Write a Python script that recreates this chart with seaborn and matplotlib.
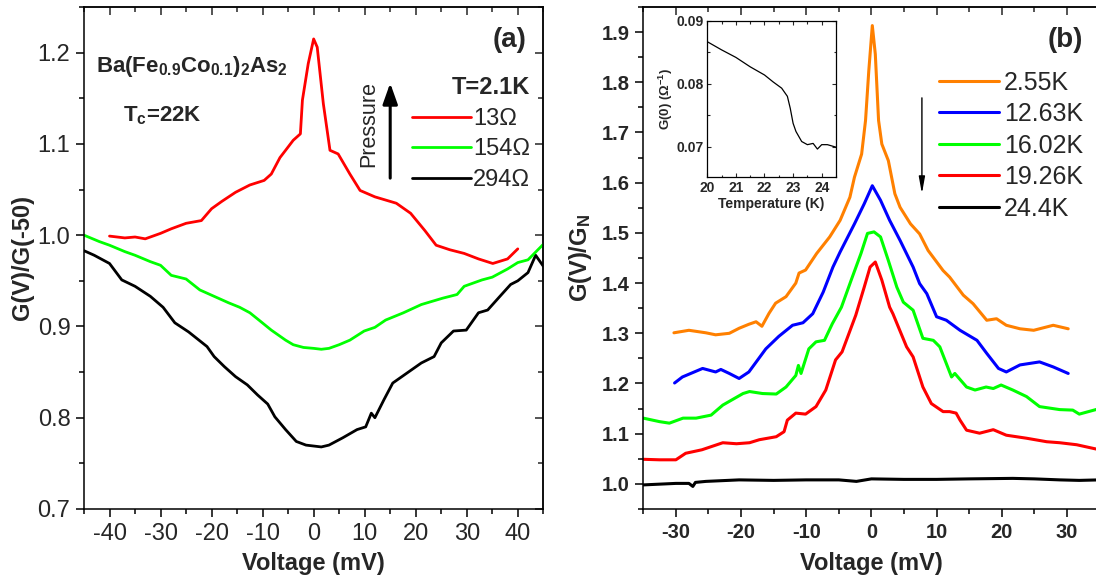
import numpy as np
import pandas as pd
import matplotlib
matplotlib.use("Agg")
import matplotlib.pyplot as plt
import seaborn as sns
from matplotlib.ticker import MultipleLocator, FormatStrFormatter

# ---------------- Panel (a) data : G(V)/G(-50) vs V at T=2.1K ----------------
a_red_v = [-40, -37, -35, -33, -30, -27.9, -25, -22, -20, -18, -15.3, -12.5, -9.7, -8.3,
           -6.6, -5.5, -4.0, -2.6, -2.2, -1.06, 0.0, 0.7, 1.9, 3.2, 4.8, 7.1, 9.1, 12,
           16.2, 19, 21.8, 24, 26.7, 29.5, 32.3, 35.1, 38, 40]
a_red_g = [0.999, 0.997, 0.998, 0.996, 1.002, 1.007, 1.013, 1.016, 1.029, 1.037, 1.047, 1.055,
           1.060, 1.067, 1.085, 1.093, 1.104, 1.111, 1.148, 1.188, 1.215, 1.206, 1.144, 1.093,
           1.089, 1.067, 1.049, 1.042, 1.035, 1.024, 1.005, 0.989, 0.984, 0.980, 0.974, 0.969,
           0.974, 0.985]

a_grn_v = [-45, -42, -40, -37, -35, -32, -30, -27.9, -25, -22.3, -19.5, -16.7, -14.5, -12.5,
           -10.5, -8.3, -5.5, -4, -2, 0, 1.5, 3, 5, 7.1, 9.9, 12, 14.1, 17.6, 21.1, 25.3,
           28.1, 29.5, 33, 35, 38, 40, 42, 45]
a_grn_g = [1.000, 0.993, 0.989, 0.982, 0.978, 0.971, 0.967, 0.956, 0.952, 0.940, 0.933, 0.926,
           0.921, 0.915, 0.906, 0.896, 0.885, 0.880, 0.877, 0.876, 0.875, 0.876, 0.880, 0.885,
           0.895, 0.899, 0.907, 0.915, 0.924, 0.931, 0.935, 0.944, 0.951, 0.954, 0.963, 0.970,
           0.973, 0.990]

a_blk_v = [-45, -43, -40, -37.6, -35, -32, -29.5, -27.2, -24.5, -20.9, -19.5, -17.5, -15.3,
           -13, -11, -9, -7.6, -5.5, -3.4, -1.5, 0, 1.5, 3, 5.7, 8.5, 10.2, 11.3, 12, 13.8,
           15.5, 18.3, 21.1, 23.6, 25, 27.4, 29.9, 32.3, 34.1, 36.5, 38.6, 40, 42, 43.5, 45]
a_blk_g = [0.983, 0.978, 0.969, 0.951, 0.944, 0.933, 0.921, 0.904, 0.894, 0.878, 0.867, 0.856,
           0.845, 0.836, 0.825, 0.815, 0.801, 0.787, 0.774, 0.770, 0.769, 0.768, 0.770, 0.778,
           0.787, 0.790, 0.805, 0.800, 0.820, 0.838, 0.849, 0.860, 0.867, 0.882, 0.895, 0.896,
           0.915, 0.918, 0.933, 0.946, 0.950, 0.959, 0.978, 0.966]

a_labels = ["13\u03a9", "154\u03a9", "294\u03a9"]

# ---------------- Panel (b) data : G(V)/G_N vs V at several T ----------------
b_org_v = [-30.3, -28, -25.4, -23.9, -21.8, -20.3, -18.8, -17.7, -16.8, -15.7, -14.7, -13.1,
           -11.6, -11.1, -10.1, -8.4, -6.4, -4.8, -3.3, -2.6, -1.5, -0.9, -0.4, 0.14, 0.6,
           1.1, 1.6, 2.6, 3.6, 4.4, 6, 7.4, 8.7, 11, 12, 14.1, 15.6, 17.7, 19.2, 20.7, 22.8,
           24.9, 27.9, 30.2]
b_org_g = [1.301, 1.306, 1.301, 1.297, 1.300, 1.310, 1.318, 1.323, 1.314, 1.340, 1.360, 1.373,
           1.400, 1.420, 1.426, 1.459, 1.492, 1.525, 1.571, 1.611, 1.657, 1.724, 1.823, 1.913,
           1.856, 1.724, 1.677, 1.644, 1.578, 1.551, 1.518, 1.498, 1.465, 1.425, 1.412, 1.376,
           1.359, 1.326, 1.329, 1.316, 1.309, 1.306, 1.316, 1.309]

b_blu_v = [-30.2, -29, -25.9, -23.9, -23.1, -21.8, -20.3, -18.8, -16.2, -14.2, -12.1, -10.5,
           -9.0, -7.4, -5.9, -4.8, -2.6, -1.1, 0.14, 1.4, 2.8, 4.4, 6.4, 7.4, 8.5, 10, 11.5,
           13.6, 16.2, 17.7, 19.5, 20.7, 22.8, 25.8, 27.9, 30.2]
b_blu_g = [1.201, 1.213, 1.230, 1.223, 1.228, 1.220, 1.210, 1.223, 1.269, 1.294, 1.316, 1.321,
           1.339, 1.382, 1.432, 1.462, 1.518, 1.558, 1.594, 1.565, 1.525, 1.485, 1.432, 1.399,
           1.379, 1.333, 1.326, 1.306, 1.286, 1.260, 1.230, 1.223, 1.237, 1.243, 1.233, 1.220]

b_grn_v = [-35, -32.5, -31, -28.9, -26.9, -24.6, -22.8, -19.7, -18.7, -16.7, -14.6, -13.1,
           -11.6, -11.2, -10.8, -9.6, -8.5, -7.2, -6.0, -4.6, -3.1, -1.6, -0.6, 0.4, 1.4, 2.6,
           3.9, 4.9, 6.4, 7.9, 9.5, 10.5, 12.3, 12.8, 14.6, 15.9, 17.6, 18.7, 19.9, 21.7,
           23.8, 25.8, 28.9, 30.9, 31.9, 35]
b_grn_g = [1.131, 1.124, 1.121, 1.131, 1.131, 1.137, 1.157, 1.180, 1.184, 1.180, 1.179, 1.193,
           1.216, 1.236, 1.220, 1.269, 1.283, 1.286, 1.319, 1.352, 1.406, 1.459, 1.499, 1.502,
           1.492, 1.445, 1.392, 1.362, 1.346, 1.290, 1.286, 1.273, 1.213, 1.220, 1.193, 1.187,
           1.193, 1.190, 1.197, 1.187, 1.174, 1.154, 1.148, 1.147, 1.139, 1.150]

b_red_v = [-35, -32.5, -30, -28.5, -26, -22.8, -20.7, -18.7, -17.2, -14.6, -13.4, -12.9,
           -11.6, -10.1, -8.5, -7.0, -5.5, -4.5, -2.4, -1.1, -0.2, 0.6, 1.6, 2.8, 3.3, 5.4,
           6.4, 7.9, 9.2, 11.0, 12.0, 13.0, 13.6, 14.6, 16.6, 18.7, 20.7, 23.8, 26.9, 28.9,
           31.5, 35]
b_red_g = [1.049, 1.048, 1.048, 1.061, 1.068, 1.082, 1.080, 1.082, 1.088, 1.094, 1.104, 1.127,
           1.141, 1.139, 1.154, 1.187, 1.247, 1.263, 1.336, 1.392, 1.432, 1.442, 1.406, 1.352,
           1.339, 1.273, 1.253, 1.193, 1.160, 1.144, 1.144, 1.141, 1.127, 1.107, 1.101, 1.108,
           1.097, 1.091, 1.084, 1.082, 1.078, 1.068]

b_blk_v = [-35, -30, -28, -27.4, -27, -25.4, -20.3, -15, -10, -5, -2.3, 0, 5, 10, 15, 21.7,
           25, 28.9, 31.9, 35]
b_blk_g = [0.998, 1.001, 1.001, 0.995, 1.003, 1.005, 1.008, 1.007, 1.008, 1.008, 1.005, 1.010,
           1.009, 1.009, 1.010, 1.011, 1.010, 1.008, 1.007, 1.008]

b_labels = ["2.55K", "12.63K", "16.02K", "19.26K", "24.4K"]

# ---------------- Inset data : G(0) vs temperature ----------------
ins_t = [20, 20.5, 21, 21.5, 22, 22.3, 22.6, 22.8, 22.9, 23.0, 23.1, 23.3, 23.5, 23.7, 23.85,
         24.0, 24.2, 24.5]
ins_g = [0.0867, 0.0854, 0.0842, 0.0827, 0.0814, 0.0803, 0.0793, 0.0780, 0.0761, 0.0737,
         0.0724, 0.0708, 0.0703, 0.0705, 0.0696, 0.0703, 0.0703, 0.0699]

# ---------------- style ----------------
sns.set_style("ticks")
plt.rcParams["font.family"] = ["Liberation Sans", "DejaVu Sans"]
plt.rcParams["mathtext.fontset"] = "custom"
plt.rcParams["mathtext.rm"] = "Liberation Sans"
plt.rcParams["mathtext.bf"] = "Liberation Sans:bold"
plt.rcParams["mathtext.it"] = "Liberation Sans:italic"
plt.rcParams["axes.linewidth"] = 1.1
plt.rcParams["axes.unicode_minus"] = False

W, H = 1096, 586
fig = plt.figure(figsize=(W / 100, H / 100), dpi=100)
axA = fig.add_axes([84 / W, 77 / H, 459.3 / W, 502 / H])
axB = fig.add_axes([643.3 / W, 77 / H, 456.2 / W, 502 / H])
axI = fig.add_axes([707.3 / W, (H - 177.3) / H, 128.7 / W, 156.3 / H])


def draw(ax, v, g, color, lw):
    df = pd.DataFrame({"V": v, "G": g})
    sns.lineplot(data=df, x="V", y="G", ax=ax, color=color, lw=lw,
                 sort=False, estimator=None, legend=False)
    return ax.get_lines()[-1]


def style(ax, xmaj, xmin, ymaj, ymin, lab_size, lab_weight, right_visible=True):
    ax.xaxis.set_major_locator(MultipleLocator(xmaj))
    ax.xaxis.set_minor_locator(MultipleLocator(xmin))
    ax.yaxis.set_major_locator(MultipleLocator(ymaj))
    ax.yaxis.set_minor_locator(MultipleLocator(ymin))
    ax.yaxis.set_major_formatter(FormatStrFormatter("%.1f"))
    ax.tick_params(which="both", direction="out", top=False, right=False, width=1.1,
                   labelsize=lab_size, pad=4, color="black")
    ax.tick_params(which="major", length=5.8)
    ax.tick_params(which="minor", length=3.4)
    for lab in ax.get_xticklabels() + ax.get_yticklabels():
        lab.set_fontweight(lab_weight)
    for s in ax.spines.values():
        s.set_visible(True)
        s.set_linewidth(1.1)
        s.set_color("black")
    sx = ax.secondary_xaxis("top")
    sx.xaxis.set_major_locator(MultipleLocator(xmaj))
    sx.xaxis.set_minor_locator(MultipleLocator(xmin))
    sx.tick_params(which="both", direction="in", labeltop=False, width=1.1)
    sx.tick_params(which="major", length=5.8)
    sx.tick_params(which="minor", length=3.4)
    sx.spines["top"].set_linewidth(1.1)
    if right_visible:
        sy = ax.secondary_yaxis("right")
        sy.yaxis.set_major_locator(MultipleLocator(ymaj))
        sy.yaxis.set_minor_locator(MultipleLocator(ymin))
        sy.tick_params(which="both", direction="in", labelright=False, width=1.1)
        sy.tick_params(which="major", length=5.8)
        sy.tick_params(which="minor", length=3.4)
        sy.spines["right"].set_linewidth(1.1)
    else:
        ax.spines["right"].set_visible(False)


# ---------------- Panel (a) ----------------
lk = draw(axA, a_blk_v, a_blk_g, "black", 2.0)
lg = draw(axA, a_grn_v, a_grn_g, "#00ff00", 2.0)
lr = draw(axA, a_red_v, a_red_g, "#ff0000", 2.0)
axA.set_xlim(-45, 45)
axA.set_ylim(0.7, 1.25)
style(axA, 10, 5, 0.1, 0.05, 17, "normal")
axA.set_xlabel("Voltage (mV)", fontsize=17, fontweight="bold")
axA.set_ylabel("G(V)/G(-50)", fontsize=17, fontweight="bold")
axA.xaxis.set_label_coords(0.5, -0.085)
axA.yaxis.set_label_coords(-0.109, 0.5)

legA = axA.legend(handles=[lr, lg, lk], labels=a_labels, title="T=2.1K",
                  loc="upper left", bbox_to_anchor=(0.714, 0.862), frameon=False,
                  fontsize=17, title_fontproperties={"weight": "bold", "size": 17},
                  handlelength=2.5, handletextpad=0.1, labelspacing=0.36,
                  borderpad=0, borderaxespad=0, alignment="right")

axA.text(0.927, 0.935, "(a)", transform=axA.transAxes, ha="center", va="center",
         fontsize=20, fontweight="bold")
axA.text(0.0255, 0.870, r"$\mathbf{Ba(Fe_{0.9}Co_{0.1})_2As_2}$", transform=axA.transAxes,
         ha="left", va="baseline", fontsize=16)
axA.text(0.0854, 0.7715, r"$\mathbf{T_c}$=22K", transform=axA.transAxes,
         ha="left", va="baseline", fontsize=16, fontweight="bold")
axA.text(10.8, 1.1217, "Pressure", rotation=90, ha="center", va="center", fontsize=15.5)
axA.annotate("", xy=(15.0, 1.1666), xytext=(15.0, 1.0625),
             arrowprops=dict(arrowstyle="-|>,head_width=0.32,head_length=0.9",
                             lw=2.2, color="black", shrinkA=0, shrinkB=0,
                             mutation_scale=14))

# ---------------- Panel (b) ----------------
hb_k = draw(axB, b_blk_v, b_blk_g, "black", 2.2)
hb_r = draw(axB, b_red_v, b_red_g, "#ff0000", 2.2)
hb_g = draw(axB, b_grn_v, b_grn_g, "#00ff00", 2.2)
hb_b = draw(axB, b_blu_v, b_blu_g, "#0000ff", 2.2)
hb_o = draw(axB, b_org_v, b_org_g, "#ff8000", 2.2)
axB.set_xlim(-35, 35)
axB.set_ylim(0.95, 1.95)
style(axB, 10, 5, 0.1, 0.05, 14.5, "bold", right_visible=False)
axB.set_xlabel("Voltage (mV)", fontsize=17, fontweight="bold")
axB.set_ylabel(r"$\mathbf{G(V)/G_N}$", fontsize=17)
axB.xaxis.set_label_coords(0.5, -0.085)
axB.yaxis.set_label_coords(-0.108, 0.5)

axB.legend(handles=[hb_o, hb_b, hb_g, hb_r, hb_k], labels=b_labels,
           loc="upper left", bbox_to_anchor=(0.648, 0.8735), frameon=False,
           fontsize=18, handlelength=2.4, handletextpad=0.2, labelspacing=0.3,
           borderpad=0, borderaxespad=0)
axB.text(0.924, 0.934, "(b)", transform=axB.transAxes, ha="center", va="center",
         fontsize=20, fontweight="bold")
axB.annotate("", xy=(7.75, 1.578), xytext=(7.75, 1.769),
             arrowprops=dict(arrowstyle="-|>,head_width=0.18,head_length=1.0",
                             lw=1.0, color="black", shrinkA=0, shrinkB=0,
                             mutation_scale=10))

# ---------------- Inset ----------------
draw(axI, ins_t, ins_g, "black", 0.9)
axI.set_xlim(20, 24.5)
axI.set_ylim(0.0651, 0.09)
axI.xaxis.set_major_locator(MultipleLocator(1))
axI.xaxis.set_minor_locator(MultipleLocator(0.5))
axI.yaxis.set_major_locator(MultipleLocator(0.01))
axI.yaxis.set_minor_locator(MultipleLocator(0.005))
axI.yaxis.set_major_formatter(FormatStrFormatter("%.2f"))
axI.tick_params(which="both", direction="in", top=True, right=True, width=0.8,
                labelsize=10, pad=2.5)
axI.tick_params(which="major", length=3)
axI.tick_params(which="minor", length=1.8)
for lab in axI.get_xticklabels() + axI.get_yticklabels():
    lab.set_fontweight("bold")
for s in axI.spines.values():
    s.set_visible(True)
    s.set_linewidth(0.9)
    s.set_color("black")
axI.set_xlabel("Temperature (K)", fontsize=10, fontweight="bold", labelpad=1.5)
axI.set_ylabel(r"G(0) ($\mathbf{\Omega^{-1}}$)", fontsize=9.5, fontweight="bold", labelpad=1)

fig.savefig("out.png", dpi=100)
